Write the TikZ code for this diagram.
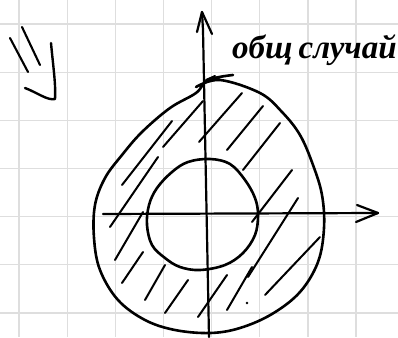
\documentclass[tikz,border=0pt]{standalone}
\usepackage{fontspec}
\newfontfamily\handfont{Liberation Serif}
\usetikzlibrary{arrows.meta}
\tikzset{
  ink/.style={line width=2.6pt, line cap=round, line join=round, black},
  hatchline/.style={line width=2pt, line cap=round, black},
  gridline/.style={line width=1.3pt, black!13},
}
\begin{document}
\begin{tikzpicture}[x=1pt,y=-1pt]
\useasboundingbox (0,0) rectangle (398,337);
\fill[white] (0,0) rectangle (398,337);
% grid
\foreach \gx in {19,67.2,115.3,163.5,211.6,259.8,307.9,356.1}
  \draw[gridline] (\gx,0) -- (\gx,337);
\foreach \gy in {24,72.2,120.3,168.5,216.6,264.8,312.9}
  \draw[gridline] (0,\gy) -- (398,\gy);
% top-left mark
\draw[ink, line width=2.1pt] (10,38) -- (28,72);
\draw[ink, line width=2.1pt] (22,27) -- (40,65);
\draw[ink, line width=2.4pt] (51,43) .. controls (53,65) and (56,85) .. (55,99)
  .. controls (48,101) and (36,92) .. (25,88);
% hatching
\foreach \ax/\ay/\bx/\by in {
  122/185/172/121, 110/227/158/157, 115/260/143/212, 122/283/143/252,
  145/300/165/265, 165/313/188/280, 198/317/227/275, 227/310/252/267,
  265/295/320/237, 248/277/298/198, 252/222/292/170, 243/170/280/123,
  227/150/263/106, 199/142/242/93, 163/147/203/101, 206/80/215/76}
  \draw[hatchline] (\ax,\ay) -- (\bx,\by);
\fill (247,303) circle (1.4pt);
% outer curve
\draw[ink] plot[smooth, tension=0.6] coordinates {
  (196,87) (220,80) (260,93) (282,112) (300,135) (313,165) (322,195)
  (324,228) (318,262) (300,292) (272,314) (240,328) (210,333) (175,330)
  (145,320) (118,300) (100,270) (94,238) (95,205) (105,178) (122,155)
  (142,132) (170,108) (196,93) (208,80) (233,75)};
% inner curve
\draw[ink] plot[smooth cycle, tension=0.6] coordinates {
  (210,159) (230,164) (245,180) (255,198) (258,215) (255,235) (243,253)
  (225,265) (200,270) (180,267) (165,258) (152,245) (147,225) (149,205)
  (157,188) (172,172) (188,162)};
% axes
\coordinate (xs) at (103,214);
\coordinate (xe) at (378,213);
\coordinate (ys) at (209,337);
\coordinate (ye) at (202,12);
\draw[ink, line width=2.2pt] (xs) -- (xe);
\draw[ink, line width=2.2pt] (357,205) -- (xe) -- (356,222);
\draw[ink, line width=2.2pt] (ys) -- (203,30) -- (ye);
\draw[ink, line width=2.2pt] (197,32) -- (ye) -- (212,34);
% label
\node[anchor=base west, inner sep=0pt, font=\handfont\bfseries\itshape\fontsize{33}{34}\selectfont] (lbl) at (232,59) {общ\hspace{6pt}случай};
\end{tikzpicture}
\end{document}
